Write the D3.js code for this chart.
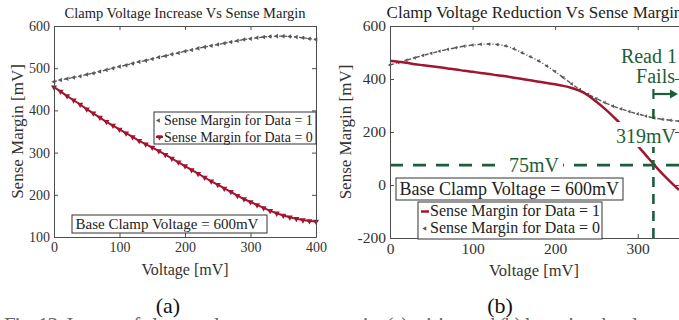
<!DOCTYPE html>
<html>
<head>
<meta charset="utf-8">
<script src="https://cdn.jsdelivr.net/npm/d3@7"></script>
<style>
body { margin: 0; background: #fff; }
svg { display: block; font-family: "Liberation Serif", "Times New Roman", serif; }
</style>
</head>
<body>
<div id="fig"></div>
<script>
// (a) clamp voltage increase
var voltA = [0,10,20,30,40,50,60,70,80,90,100,110,120,130,140,150,160,170,180,190,200,
             210,220,230,240,250,260,270,280,290,300,310,320,330,340,350,360,370,380,390,400];
var smA_data1 = [468,472,475,478,481,485,488,492,496,500,504,507,511,515,518,522,526,529,533,536,540,
                 543,547,550,553,556,559,562,565,568,570,572,574,575,576,576,575,574,572,570,568];
var smA_data0 = [455,445,434,424,414,403,393,383,373,364,355,346,337,328,320,312,304,295,286,277,268,
                 259,250,241,232,224,215,207,198,190,183,176,169,162,156,151,147,143,140,138,137];

// (b) clamp voltage reduction
var voltB = [0,10,20,30,40,50,60,70,80,90,100,110,120,130,140,150,160,170,180,190,200,
             210,220,230,240,250,260,270,280,290,300,310,320,330,340,350];
var smB_data1 = [469,465,461,456,452,448,444,440,436,431,427,423,419,414,410,405,400,395,390,385,380,
                 374,366,355,338,314,288,259,228,188,148,112,76,42,11,-19];
var smB_data0 = [453,462,471,480,489,497,505,512,518,524,528,531,532,530,525,514,499,484,468,449,428,
                 405,382,360,342,326,311,298,287,277,268,260,253,248,244,241];

var ticksAx = [0,100,200,300,400];
var ticksAy = [100,200,300,400,500,600];
var ticksBx = [0,100,200,300];
var ticksBy = [-200,0,200,400,600];

var marginLimit = 75;   // mV
var failVoltage = 319;  // mV

var red = "#a2142f";
var gray = "#595959";
var green = "#1d5e3a";
var axisCol = "#4d4d4d";

var svg = d3.select("#fig").append("svg")
  .attr("width", 679)
  .attr("height", 320);

function drawAxes(x, y, xt, yt, fs) {
  var fmt = function(d) { return String(d); };   // plain hyphen for negatives
  var g = svg.append("g");
  g.append("g").attr("transform", "translate(0," + y.range()[0] + ")")
    .call(d3.axisBottom(x).tickValues(xt).tickFormat(fmt).tickSize(-4).tickSizeOuter(0).tickPadding(5));
  g.append("g").attr("transform", "translate(" + x.range()[0] + ",0)")
    .call(d3.axisLeft(y).tickValues(yt).tickFormat(fmt).tickSize(-4).tickSizeOuter(0).tickPadding(4));
  g.append("g").attr("transform", "translate(0," + y.range()[1] + ")")
    .call(d3.axisTop(x).tickValues(xt).tickSize(-4).tickSizeOuter(0).tickFormat(""));
  g.append("g").attr("transform", "translate(" + x.range()[1] + ",0)")
    .call(d3.axisRight(y).tickValues(yt).tickSize(-4).tickSizeOuter(0).tickFormat(""));
  g.selectAll(".domain, .tick line").attr("stroke", axisCol).attr("stroke-width", 1);
  g.selectAll(".tick text").attr("fill", "#333").attr("font-size", fs)
    .attr("font-family", "Liberation Serif, serif");
  return g;
}

function marker(g, type, cx, cy, size, col) {
  var rot = type === "down" ? 180 : -90;
  g.append("path")
    .attr("d", d3.symbol().type(d3.symbolTriangle).size(size)())
    .attr("transform", "translate(" + cx + "," + cy + ") rotate(" + rot + ")")
    .attr("fill", col);
}

// ---------- panel (a) ----------
var xA = d3.scaleLinear().domain([0, 400]).range([54, 316]);
var yA = d3.scaleLinear().domain([100, 600]).range([237, 26]);
var gA = svg.append("g");

var lineA1 = d3.line().x(function(d, i) { return xA(voltA[i]); }).y(function(d) { return yA(d); });
gA.append("path").datum(smA_data1).attr("d", lineA1)
  .attr("fill", "none").attr("stroke", gray).attr("stroke-width", 1.3).attr("stroke-dasharray", "3,2");
smA_data1.forEach(function(d, i) { marker(gA, "left", xA(voltA[i]), yA(d), 9, gray); });

gA.append("path").datum(smA_data0).attr("d", lineA1)
  .attr("fill", "none").attr("stroke", red).attr("stroke-width", 2);
smA_data0.forEach(function(d, i) { marker(gA, "down", xA(voltA[i]), yA(d), 16, red); });

drawAxes(xA, yA, ticksAx, ticksAy, "14px");

svg.append("text").attr("x", 185).attr("y", 18).attr("text-anchor", "middle")
  .attr("font-size", "14.5px").attr("fill", "#222").text("Clamp Voltage Increase Vs Sense Margin");
svg.append("text").attr("x", 185).attr("y", 275).attr("text-anchor", "middle")
  .attr("font-size", "16px").attr("fill", "#333").text("Voltage [mV]");
svg.append("text").attr("transform", "translate(23,131.5) rotate(-90)").attr("text-anchor", "middle")
  .attr("font-size", "17px").attr("fill", "#333").text("Sense Margin [mV]");

// legend (a)
var legA = svg.append("g");
legA.append("rect").attr("x", 154).attr("y", 112).attr("width", 162).attr("height", 32)
  .attr("fill", "#fff").attr("stroke", "#333").attr("stroke-width", 1);
marker(legA, "left", 158.5, 120.5, 9, gray);
legA.append("text").attr("x", 164).attr("y", 125).attr("font-size", "14px").attr("fill", "#222")
  .text("Sense Margin for Data = 1");
legA.append("line").attr("x1", 156).attr("x2", 163).attr("y1", 137).attr("y2", 137)
  .attr("stroke", red).attr("stroke-width", 2);
marker(legA, "down", 159.5, 137, 16, red);
legA.append("text").attr("x", 164).attr("y", 142).attr("font-size", "14px").attr("fill", "#222")
  .text("Sense Margin for Data = 0");

svg.append("rect").attr("x", 72).attr("y", 215).attr("width", 195).attr("height", 18)
  .attr("fill", "#fff").attr("stroke", "#333").attr("stroke-width", 1);
svg.append("text").attr("x", 75.5).attr("y", 229).attr("font-size", "15px").attr("fill", "#222")
  .text("Base Clamp Voltage = 600mV");

// ---------- panel (b) ----------
var xB = d3.scaleLinear().domain([0, 350]).range([390, 679]);
var yB = d3.scaleLinear().domain([-200, 600]).range([238, 26]);
var gB = svg.append("g");

var lineB = d3.line().x(function(d, i) { return xB(voltB[i]); }).y(function(d) { return yB(d); })
  .curve(d3.curveMonotoneX);

gB.append("path").datum(smB_data0).attr("d", lineB)
  .attr("fill", "none").attr("stroke", gray).attr("stroke-width", 1.4).attr("stroke-dasharray", "4,2,1,2");
smB_data0.forEach(function(d, i) { marker(gB, "left", xB(voltB[i]), yB(d), 6, gray); });

gB.append("path").datum(smB_data1).attr("d", lineB)
  .attr("fill", "none").attr("stroke", red).attr("stroke-width", 2.5);

// threshold lines
gB.append("line").attr("x1", xB(0)).attr("x2", xB(350)).attr("y1", yB(marginLimit)).attr("y2", yB(marginLimit))
  .attr("stroke", green).attr("stroke-width", 2.6).attr("stroke-dasharray", "13,10");
gB.append("line").attr("x1", xB(failVoltage)).attr("x2", xB(failVoltage)).attr("y1", yB(-200)).attr("y2", yB(294))
  .attr("stroke", green).attr("stroke-width", 2.6).attr("stroke-dasharray", "10,7");

// label backgrounds
gB.append("rect").attr("x", 505).attr("y", yB(marginLimit) - 10).attr("width", 58).attr("height", 20).attr("fill", "#fff");
gB.append("rect").attr("x", 613).attr("y", 122).attr("width", 66).attr("height", 25).attr("fill", "#fff");

gB.append("text").attr("x", 534).attr("y", yB(marginLimit) + 7).attr("text-anchor", "middle")
  .attr("font-size", "20px").attr("fill", green).text(marginLimit + "mV");
gB.append("text").attr("x", 646).attr("y", 143).attr("text-anchor", "middle")
  .attr("font-size", "20px").attr("fill", green).text(failVoltage + "mV");
gB.append("text").attr("x", 677).attr("y", 63).attr("text-anchor", "end")
  .attr("font-size", "20px").attr("fill", green).text("Read 1");
gB.append("text").attr("x", 675).attr("y", 83).attr("text-anchor", "end")
  .attr("font-size", "20px").attr("fill", green).text("Fails");
// arrow
gB.append("line").attr("x1", xB(failVoltage)).attr("x2", xB(failVoltage)).attr("y1", 89).attr("y2", 99)
  .attr("stroke", green).attr("stroke-width", 2.2);
gB.append("line").attr("x1", xB(failVoltage)).attr("x2", 672).attr("y1", 94).attr("y2", 94)
  .attr("stroke", green).attr("stroke-width", 2.2);
gB.append("path").attr("d", "M670,89.5 L678,94 L670,98.5 Z").attr("fill", green);

drawAxes(xB, yB, ticksBx, ticksBy, "15.5px");

svg.append("text").attr("x", 534.5).attr("y", 18).attr("text-anchor", "middle")
  .attr("font-size", "17px").attr("fill", "#222").text("Clamp Voltage Reduction Vs Sense Margin");
svg.append("text").attr("x", 534).attr("y", 276).attr("text-anchor", "middle")
  .attr("font-size", "16.5px").attr("fill", "#333").text("Voltage [mV]");
svg.append("text").attr("transform", "translate(351,132) rotate(-90)").attr("text-anchor", "middle")
  .attr("font-size", "17px").attr("fill", "#333").text("Sense Margin [mV]");

svg.append("rect").attr("x", 396).attr("y", 178).attr("width", 227).attr("height", 22)
  .attr("fill", "#fff").attr("stroke", "#333").attr("stroke-width", 1);
svg.append("text").attr("x", 399.5).attr("y", 195).attr("font-size", "18px").attr("fill", "#222")
  .text("Base Clamp Voltage = 600mV");

var legB = svg.append("g");
legB.append("rect").attr("x", 418).attr("y", 202).attr("width", 184).attr("height", 37)
  .attr("fill", "#fff").attr("stroke", "#333").attr("stroke-width", 1);
legB.append("line").attr("x1", 421).attr("x2", 429).attr("y1", 211.5).attr("y2", 211.5)
  .attr("stroke", red).attr("stroke-width", 2.5);
legB.append("text").attr("x", 430).attr("y", 216).attr("font-size", "16px").attr("fill", "#222")
  .text("Sense Margin for Data = 1");
marker(legB, "left", 425, 228.5, 9, gray);
legB.append("text").attr("x", 430).attr("y", 233).attr("font-size", "16px").attr("fill", "#222")
  .text("Sense Margin for Data = 0");

// sub-captions and figure caption (cut by the frame)
svg.append("text").attr("x", 168).attr("y", 313).attr("text-anchor", "middle")
  .attr("font-size", "22px").attr("fill", "#111").text("(a)");
svg.append("text").attr("x", 500).attr("y", 313).attr("text-anchor", "middle")
  .attr("font-size", "22px").attr("fill", "#111").text("(b)");
svg.append("text").attr("x", 4).attr("y", 332).attr("font-size", "21px").attr("fill", "#666")
  .attr("textLength", 672)
  .text("Fig. 13: Impact of clamp voltage on sense margin: (a) raising and (b) lowering the clamp.");
</script>
</body>
</html>
